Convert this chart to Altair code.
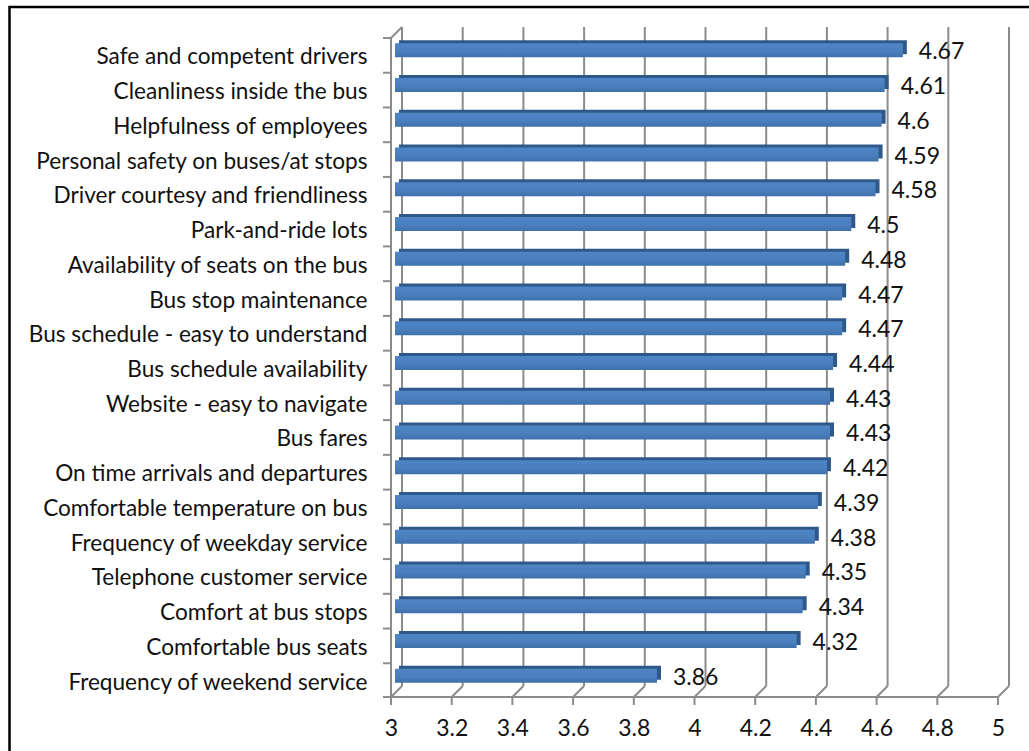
import altair as alt
import pandas as pd

# Mean satisfaction score per service attribute (scale 3..5 shown)
categories = [
    "Safe and competent drivers",
    "Cleanliness inside the bus",
    "Helpfulness of employees",
    "Personal safety on buses/at stops",
    "Driver courtesy and friendliness",
    "Park-and-ride lots",
    "Availability of seats on the bus",
    "Bus stop maintenance",
    "Bus schedule - easy to understand",
    "Bus schedule availability",
    "Website - easy to navigate",
    "Bus fares",
    "On time arrivals and departures",
    "Comfortable temperature on bus",
    "Frequency of weekday service",
    "Telephone customer service",
    "Comfort at bus stops",
    "Comfortable bus seats",
    "Frequency of weekend service",
]
scores = [4.67, 4.61, 4.6, 4.59, 4.58, 4.5, 4.48, 4.47, 4.47, 4.44,
          4.43, 4.43, 4.42, 4.39, 4.38, 4.35, 4.34, 4.32, 3.86]
axis_ticks = [3.0, 3.2, 3.4, 3.6, 3.8, 4.0, 4.2, 4.4, 4.6, 4.8, 5.0]
axis_start = 3.0

# Layout (pixels)
PLOT_W, PLOT_H = 607, 660
LEFT, TOP = 391, 38
DEPTH = 11            # horizontal / vertical shift of the back wall
FLOOR_Y = 659         # front edge of the floor, in plot coordinates
BACK_TOP = -11        # top of the back wall
STEP = PLOT_H / len(categories)

FONT = "Lato"
GRID = "#8c8c8c"
TEXT = "#111111"

bars = pd.DataFrame({
    "category": categories,
    "score": scores,
    "base": [axis_start] * len(scores),
    "label": [f"{v:g}" for v in scores],
})
grid = pd.DataFrame({"v": axis_ticks})
one = pd.DataFrame({"k": [0]})

x_scale = alt.Scale(domain=[3, 5], nice=False, zero=False)
y_scale = alt.Scale(domain=categories, paddingInner=0, paddingOuter=0)

# One axis definition per channel, shared by every layer so they merge cleanly
x_axis = alt.Axis(
    values=axis_ticks, format="~g", ticks=False, tickSize=0,
    domain=False, grid=False, labelFont=FONT, labelFontSize=23,
    labelColor=TEXT, labelPadding=19, labelFlush=False, title=None,
)
y_axis = alt.Axis(
    ticks=False, tickSize=0, domain=False, grid=False, labelFont=FONT,
    labelFontSize=22.6, labelColor=TEXT, labelPadding=24, labelLimit=500,
    labelOffset=2, title=None,
)


def xq(field):
    return alt.X(field, type="quantitative", scale=x_scale, axis=x_axis)


def yc():
    return alt.Y("category", type="nominal", scale=y_scale, sort=categories, axis=y_axis)


# Back wall gridlines
back_grid = alt.Chart(grid).mark_rule(
    color=GRID, strokeWidth=2, xOffset=DEPTH, x2Offset=DEPTH
).encode(
    x=xq("v"), x2="v:Q",
    y=alt.value(BACK_TOP), y2=alt.value(FLOOR_Y - DEPTH),
)

# Floor: slanted lines joining front ticks to back wall
floor_slant = alt.Chart(grid).mark_rule(
    color=GRID, strokeWidth=2, x2Offset=DEPTH
).encode(
    x=xq("v"), x2="v:Q",
    y=alt.value(FLOOR_Y), y2=alt.value(FLOOR_Y - DEPTH),
)

# Front tick marks below the floor
front_ticks = alt.Chart(grid).mark_rule(color=GRID, strokeWidth=2).encode(
    x=xq("v"),
    y=alt.value(FLOOR_Y), y2=alt.value(FLOOR_Y + 8),
)

# Floor front edge, left front edge and the top corner
frame = pd.DataFrame({"x0": [axis_start], "x1": [5.0]})
floor_front = alt.Chart(frame).mark_rule(color=GRID, strokeWidth=2, xOffset=-8).encode(
    x=xq("x0"), x2="x1:Q",
    y=alt.value(FLOOR_Y),
)
left_front = alt.Chart(frame).mark_rule(color=GRID, strokeWidth=2).encode(
    x=xq("x0"),
    y=alt.value(0), y2=alt.value(FLOOR_Y + 8),
)
top_slant = alt.Chart(frame).mark_rule(color=GRID, strokeWidth=2, x2Offset=DEPTH).encode(
    x=xq("x0"), x2="x0:Q",
    y=alt.value(0), y2=alt.value(-DEPTH),
)

# Category boundary ticks on the left edge
cat_ticks = alt.Chart(bars).mark_rule(
    color=GRID, strokeWidth=2, yOffset=-STEP / 2
).encode(
    y=yc(),
    x=alt.value(-8), x2=alt.value(0),
)

# 3-D bars: a dark shifted copy forms the top and end faces
bar_depth = alt.Chart(bars).mark_bar(
    orient="horizontal", size=14, yOffset=-8, xOffset=8, x2Offset=9,
    color="#30598b",
).encode(
    y=yc(), x=xq("base"), x2="score:Q",
)

front_fill = alt.Gradient(
    gradient="linear",
    stops=[
        alt.GradientStop(color="#4f86c6", offset=0),
        alt.GradientStop(color="#4a7ebd", offset=0.6),
        alt.GradientStop(color="#3f70aa", offset=1),
    ],
    x1=0, x2=0, y1=0, y2=1,
)
bar_front = alt.Chart(bars).mark_bar(
    orient="horizontal", size=14, yOffset=-5, xOffset=4, x2Offset=5,
    color=front_fill,
).encode(
    y=yc(), x=xq("base"), x2="score:Q",
)

values = alt.Chart(bars).mark_text(
    align="left", baseline="middle", dx=21, dy=-3,
    font=FONT, fontSize=23, color=TEXT,
).encode(
    y=yc(), x=xq("score"),
    text="label:N",
)

# Outer frame of the figure
border = alt.Chart(one).mark_rect(
    fill=None, stroke="#000000", strokeWidth=2.5
).encode(
    x=alt.value(9.5 - LEFT),
    x2=alt.value(1029 - LEFT + 20),
    y=alt.value(7 - TOP),
    y2=alt.value(751 - TOP + 20),
)

chart = alt.layer(
    border, back_grid, floor_slant, front_ticks, floor_front, left_front,
    top_slant, cat_ticks, bar_depth, bar_front, values,
).properties(
    width=PLOT_W,
    height=PLOT_H,
    autosize=alt.AutoSizeParams(type="none"),
    padding={"left": LEFT, "top": TOP, "right": 1029 - LEFT - PLOT_W, "bottom": 751 - TOP - PLOT_H},
    background="#ffffff",
).configure_view(strokeWidth=0)

chart.save("out.html", embed_options={"renderer": "svg", "actions": False})
